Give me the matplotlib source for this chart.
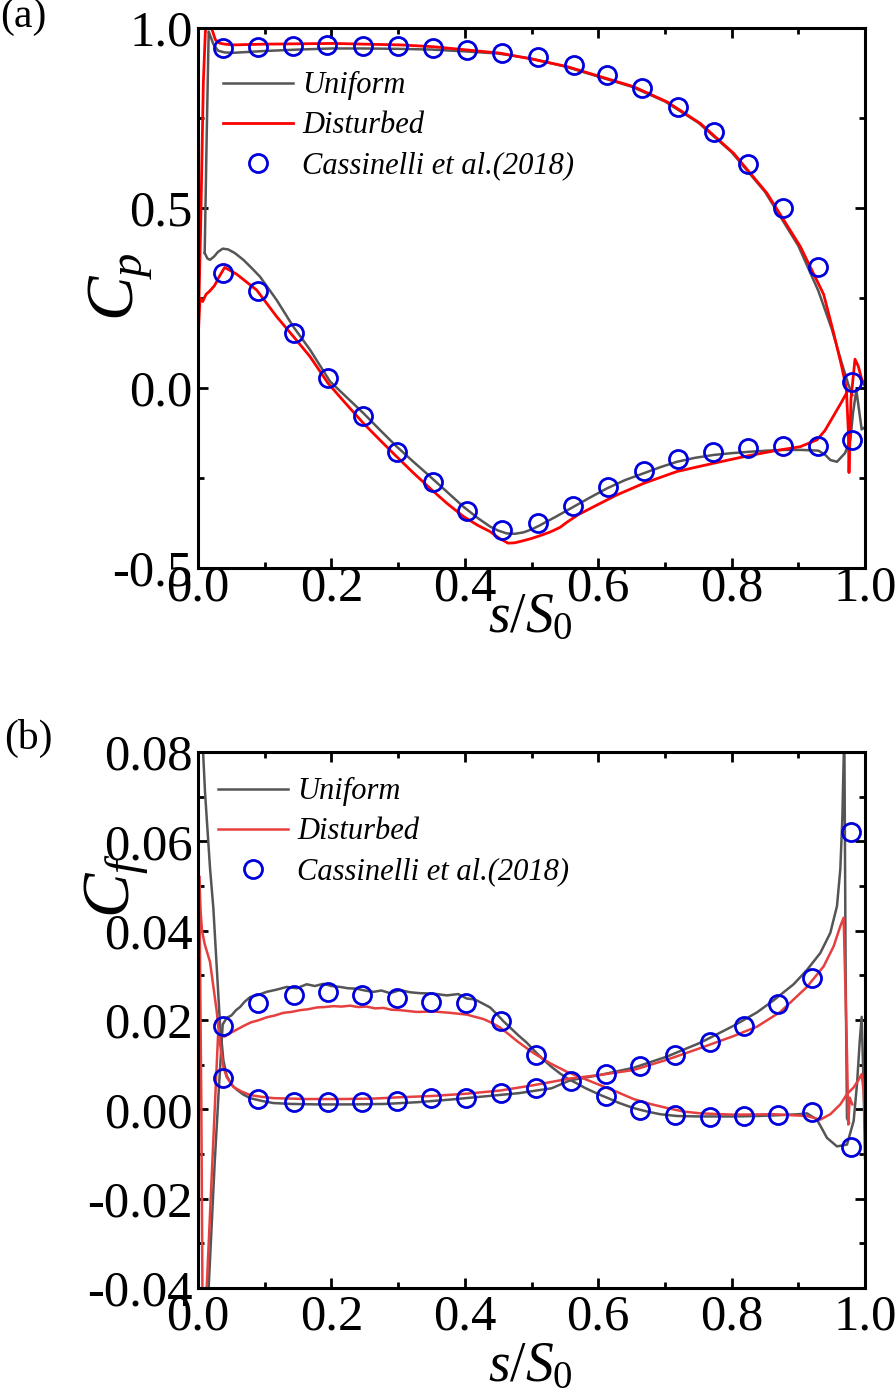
import matplotlib
matplotlib.use("Agg")
import matplotlib.pyplot as plt
from matplotlib.ticker import MultipleLocator, FormatStrFormatter

plt.rcParams['font.family'] = ['Liberation Serif', 'DejaVu Serif']
plt.rcParams['mathtext.fontset'] = 'custom'
plt.rcParams['mathtext.it'] = 'Liberation Serif:italic'
plt.rcParams['mathtext.rm'] = 'Liberation Serif'
plt.rcParams['axes.unicode_minus'] = False

# ---------------- (a) pressure coefficient ----------------
uni_ps_s = [0.010, 0.013, 0.016, 0.019, 0.023, 0.030, 0.040, 0.053, 0.10, 0.15, 0.20, 0.25, 0.30,
            0.35, 0.40, 0.45, 0.50, 0.55, 0.60, 0.65, 0.70, 0.75, 0.80, 0.85, 0.90, 0.93, 0.95,
            0.965, 0.975, 0.981]
uni_ps_cp = [0.375, 0.70, 0.99, 0.975, 0.955, 0.937, 0.932, 0.931, 0.936, 0.940, 0.943, 0.943, 0.942,
             0.940, 0.935, 0.929, 0.915, 0.893, 0.865, 0.837, 0.796, 0.737, 0.655, 0.545, 0.395, 0.27,
             0.165, 0.07, 0.01, -0.02]
uni_ss_s = [0.010, 0.014, 0.018, 0.024, 0.030, 0.037, 0.045, 0.055, 0.068, 0.080, 0.093, 0.105, 0.118,
            0.143, 0.168, 0.198, 0.223, 0.248, 0.273, 0.298, 0.323, 0.348, 0.373, 0.398, 0.42, 0.438,
            0.45, 0.463, 0.475, 0.488, 0.50, 0.513, 0.538, 0.563, 0.588, 0.613, 0.64, 0.668, 0.693,
            0.718, 0.745, 0.773, 0.80, 0.828, 0.853, 0.878, 0.905, 0.930, 0.940, 0.948, 0.958, 0.970,
            0.978, 0.982, 0.987, 0.991, 0.995, 0.999]
uni_ss_cp = [0.375, 0.36, 0.356, 0.365, 0.378, 0.387, 0.385, 0.375, 0.356, 0.334, 0.309, 0.278, 0.244,
             0.170, 0.106, 0.018, -0.026, -0.070, -0.117, -0.163, -0.205, -0.246, -0.288, -0.330, -0.362,
             -0.385, -0.396, -0.404, -0.405, -0.401, -0.393, -0.381, -0.356, -0.330, -0.304, -0.279,
             -0.256, -0.237, -0.220, -0.205, -0.194, -0.186, -0.181, -0.177, -0.174, -0.172, -0.172,
             -0.174, -0.185, -0.200, -0.205, -0.181, -0.144, -0.07, -0.006, -0.06, -0.115, -0.11]

dis_ps_s = [0.0, 0.004, 0.008, 0.011, 0.014, 0.018, 0.022, 0.026, 0.032, 0.040, 0.053, 0.10, 0.15,
            0.203, 0.25, 0.303, 0.352, 0.403, 0.453, 0.502, 0.553, 0.603, 0.653, 0.703, 0.753, 0.803,
            0.853, 0.903, 0.938, 0.952, 0.965, 0.972, 0.975, 0.976, 0.979, 0.985, 0.990, 0.995, 1.0]
dis_ps_cp = [0.13, 0.45, 0.85, 0.99, 1.01, 1.01, 0.99, 0.967, 0.958, 0.955, 0.953, 0.955, 0.956,
             0.957, 0.955, 0.953, 0.948, 0.939, 0.930, 0.913, 0.893, 0.865, 0.837, 0.795, 0.735, 0.652,
             0.541, 0.393, 0.26, 0.16, 0.06, 0.0, -0.12, -0.235, -0.03, 0.08, 0.06, 0.025, 0.005]
dis_ss_s = [0.0, 0.003, 0.007, 0.012, 0.018, 0.025, 0.032, 0.040, 0.058, 0.088, 0.118, 0.143, 0.168,
            0.195, 0.22, 0.248, 0.273, 0.298, 0.323, 0.348, 0.373, 0.398, 0.42, 0.438, 0.452, 0.465,
            0.475, 0.488, 0.50, 0.513, 0.528, 0.543, 0.553, 0.57, 0.593, 0.628, 0.668, 0.718, 0.773,
            0.823, 0.863, 0.903, 0.928, 0.94, 0.952, 0.963, 0.973]
dis_ss_cp = [0.13, 0.25, 0.24, 0.26, 0.27, 0.285, 0.31, 0.335, 0.316, 0.272, 0.198, 0.143, 0.087,
             0.013, -0.04, -0.098, -0.145, -0.191, -0.236, -0.279, -0.32, -0.357, -0.382, -0.399,
             -0.418, -0.431, -0.430, -0.424, -0.418, -0.410, -0.400, -0.387, -0.373, -0.352, -0.330,
             -0.297, -0.265, -0.232, -0.209, -0.189, -0.175, -0.163, -0.144, -0.118, -0.08, -0.045,
             -0.012]

exp_ps_s = [0.037, 0.090, 0.142, 0.194, 0.247, 0.300, 0.353, 0.403, 0.456, 0.510, 0.563, 0.613,
            0.665, 0.719, 0.774, 0.825, 0.877, 0.930, 0.981]
exp_ps_cp = [0.944, 0.948, 0.950, 0.953, 0.950, 0.950, 0.945, 0.939, 0.931, 0.919, 0.897, 0.869,
             0.832, 0.780, 0.712, 0.622, 0.499, 0.337, 0.017]
exp_ss_s = [0.038, 0.090, 0.144, 0.195, 0.247, 0.299, 0.353, 0.404, 0.456, 0.509, 0.562, 0.614,
            0.668, 0.720, 0.772, 0.824, 0.877, 0.929, 0.980]
exp_ss_cp = [0.319, 0.270, 0.152, 0.027, -0.077, -0.177, -0.260, -0.342, -0.394, -0.376, -0.327,
             -0.274, -0.230, -0.197, -0.177, -0.168, -0.160, -0.160, -0.144]

# ---------------- (b) skin friction ----------------
uni_a_s = [0.014, 0.025, 0.031, 0.037, 0.043, 0.050, 0.057, 0.063, 0.070, 0.078, 0.090, 0.103, 0.118,
           0.133, 0.148, 0.163, 0.175, 0.188, 0.200, 0.213, 0.225, 0.238, 0.250, 0.263, 0.275, 0.288,
           0.303, 0.318, 0.333, 0.353, 0.373, 0.390, 0.403, 0.415, 0.428, 0.438, 0.448, 0.458, 0.468,
           0.480, 0.493, 0.505, 0.518, 0.530, 0.543, 0.555, 0.568, 0.580, 0.593, 0.605, 0.618, 0.630,
           0.643, 0.655, 0.668, 0.680, 0.693, 0.718, 0.753, 0.803, 0.840, 0.873, 0.900, 0.913, 0.928,
           0.943, 0.958, 0.973, 0.983, 0.988, 0.992, 0.995, 0.998, 1.0]
uni_a_cf = [-0.046, -0.012, 0.004, 0.019, 0.0205, 0.021, 0.0222, 0.0229, 0.0241, 0.0251, 0.0256,
            0.0263, 0.0268, 0.0274, 0.0271, 0.0280, 0.0276, 0.0281, 0.0276, 0.0274, 0.0271, 0.0270,
            0.0266, 0.0263, 0.0266, 0.0260, 0.0267, 0.0262, 0.0260, 0.0259, 0.0255, 0.0258, 0.0248,
            0.0246, 0.0236, 0.0228, 0.0213, 0.0197, 0.0183, 0.0166, 0.0149, 0.0130, 0.0111, 0.0095,
            0.0080, 0.0068, 0.0058, 0.0048, 0.0039, 0.0031, 0.0023, 0.0015, 0.0008, 0.0002, -0.0003,
            -0.0007, -0.0011, -0.0015, -0.0016, -0.0016, -0.0015, -0.0013, -0.0011, -0.0009, -0.0023,
            -0.0064, -0.0083, -0.0079, -0.0026, 0.0056, 0.015, 0.0207, 0.005, -0.011]
uni_b_s = [0.006, 0.0105, 0.018, 0.023, 0.028, 0.033, 0.038, 0.043, 0.050, 0.058, 0.068, 0.078, 0.095,
           0.113, 0.140, 0.180, 0.230, 0.280, 0.330, 0.380, 0.430, 0.480, 0.530, 0.558, 0.603, 0.653,
           0.703, 0.753, 0.803, 0.838, 0.863, 0.893, 0.913, 0.933, 0.948, 0.958, 0.963, 0.966, 0.969,
           0.971, 0.973, 0.976]
uni_b_cf = [0.085, 0.071, 0.054, 0.045, 0.032, 0.019, 0.011, 0.0075, 0.0056, 0.0044, 0.0033, 0.0025,
            0.0019, 0.0014, 0.0012, 0.0011, 0.0011, 0.0012, 0.0016, 0.0022, 0.0029, 0.0036, 0.0047,
            0.0065, 0.0077, 0.0093, 0.0118, 0.0149, 0.0187, 0.0217, 0.0244, 0.028, 0.0312, 0.035,
            0.0395, 0.0455, 0.0538, 0.065, 0.085, 0.03, -0.002, -0.003]

dis_a_s = [0.002, 0.005, 0.007, 0.010, 0.030, 0.040, 0.050, 0.060, 0.070, 0.080, 0.090, 0.103, 0.115,
           0.128, 0.140, 0.153, 0.165, 0.178, 0.190, 0.203, 0.215, 0.228, 0.240, 0.253, 0.265, 0.278,
           0.290, 0.303, 0.328, 0.353, 0.378, 0.403, 0.428, 0.440, 0.453, 0.465, 0.478, 0.490, 0.503,
           0.528, 0.553, 0.578, 0.603, 0.628, 0.653, 0.678, 0.703, 0.728, 0.753, 0.803, 0.863, 0.913,
           0.933, 0.948, 0.963, 0.973, 0.983, 0.990, 0.995, 0.998, 1.0]
dis_a_cf = [0.052, 0.0, -0.05, -0.05, 0.0165, 0.0163, 0.0172, 0.0180, 0.0188, 0.0195, 0.0199, 0.0206,
            0.0210, 0.0216, 0.0218, 0.0222, 0.0224, 0.0228, 0.0229, 0.0231, 0.0230, 0.0232, 0.0229,
            0.0230, 0.0226, 0.0227, 0.0223, 0.0222, 0.0218, 0.0219, 0.0216, 0.0212, 0.0202, 0.0194,
            0.0183, 0.0169, 0.0153, 0.0140, 0.0126, 0.0103, 0.0084, 0.0069, 0.0054, 0.0039, 0.0023,
            0.0012, 0.0003, -0.0005, -0.0009, -0.0012, -0.0011, -0.0015, -0.0023, -0.0011, 0.0011,
            0.0034, 0.0049, 0.0065, 0.0079, 0.004, -0.003]
dis_b_s = [0.002, 0.004, 0.006, 0.010, 0.018, 0.028, 0.033, 0.038, 0.043, 0.053, 0.065, 0.078, 0.095,
           0.113, 0.163, 0.213, 0.263, 0.303, 0.353, 0.403, 0.453, 0.503, 0.558, 0.603, 0.653, 0.703,
           0.753, 0.803, 0.838, 0.873, 0.913, 0.938, 0.953, 0.963, 0.968, 0.973, 0.975, 0.977, 0.981]
dis_b_cf = [0.052, 0.044, 0.040, 0.037, 0.033, 0.022, 0.0146, 0.0095, 0.0072, 0.0050, 0.0040, 0.0032,
            0.0028, 0.0025, 0.0023, 0.0023, 0.0024, 0.0027, 0.0030, 0.0035, 0.0042, 0.0054, 0.0069,
            0.0077, 0.0088, 0.0111, 0.0137, 0.0164, 0.0185, 0.0218, 0.0274, 0.032, 0.0365, 0.041,
            0.0429, 0.0124, -0.0034, 0.0026, 0.0011]

exp_a_s = [0.038, 0.090, 0.144, 0.195, 0.246, 0.298, 0.350, 0.402, 0.455, 0.507, 0.559, 0.611, 0.663,
           0.715, 0.767, 0.818, 0.870, 0.920, 0.979]
exp_a_cf = [0.0187, 0.0237, 0.0257, 0.0262, 0.0257, 0.0249, 0.0240, 0.0238, 0.0197, 0.0121, 0.0063,
            0.0029, -0.0001, -0.0012, -0.0018, -0.0015, -0.0013, -0.0006, -0.0085]
exp_b_s = [0.038, 0.090, 0.144, 0.195, 0.246, 0.298, 0.350, 0.402, 0.455, 0.507, 0.611, 0.663, 0.715,
           0.767, 0.818, 0.870, 0.920, 0.979]
exp_b_cf = [0.0069, 0.0022, 0.0016, 0.0016, 0.0016, 0.0018, 0.0026, 0.0026, 0.0037, 0.0048, 0.0078,
            0.0098, 0.0121, 0.0150, 0.0187, 0.0236, 0.0295, 0.0620]

GRAY = '#555555'
RED_A = '#ff0000'
RED_B = '#e5403f'
BLUE = '#0000dd'
labels = ['Uniform', 'Disturbed', 'Cassinelli et al.(2018)']

fig = plt.figure(figsize=(8.96, 13.98), dpi=100)
ax1 = fig.add_axes([0.221, 0.5937, 0.7444, 0.3863])
ax2 = fig.add_axes([0.221, 0.0787, 0.7444, 0.3834])


def style_axis(ax, xpad):
    for sp in ax.spines.values():
        sp.set_linewidth(2.2)
    ax.tick_params(which='both', direction='in', top=True, right=True, width=2,
                   labelsize=36.5)
    ax.tick_params(axis='y', pad=4)
    ax.tick_params(axis='x', pad=xpad)
    ax.tick_params(which='major', length=7)
    ax.tick_params(which='minor', length=4)
    ax.xaxis.set_major_locator(MultipleLocator(0.2))
    ax.xaxis.set_minor_locator(MultipleLocator(0.1))
    ax.xaxis.set_major_formatter(FormatStrFormatter('%.1f'))
    ax.set_xlim(0, 1)
    ax.set_xlabel(r'$s/S_{\mathit{0}}$', fontsize=40)


marker_kw = dict(ls='none', marker='o', ms=13, mfc='none', mec=BLUE, mew=2.0)

ax1.plot(uni_ps_s, uni_ps_cp, color=GRAY, lw=1.8, label=labels[0])
ax1.plot(uni_ss_s, uni_ss_cp, color=GRAY, lw=1.8)
ax1.plot(dis_ps_s, dis_ps_cp, color=RED_A, lw=2.0, label=labels[1])
ax1.plot(dis_ss_s, dis_ss_cp, color=RED_A, lw=2.0)
ax1.plot(exp_ps_s + exp_ss_s, exp_ps_cp + exp_ss_cp, label=labels[2], **marker_kw)
style_axis(ax1, -2)
ax1.set_ylim(-0.5, 1.0)
ax1.yaxis.set_major_locator(MultipleLocator(0.5))
ax1.yaxis.set_minor_locator(MultipleLocator(0.25))
ax1.yaxis.set_major_formatter(FormatStrFormatter('%.1f'))
ax1.set_ylabel(r'$C_p$', fontsize=48)
ax1.yaxis.set_label_coords(-0.065, 0.52)
ax1.xaxis.set_label_coords(0.498, -0.044)

ax2.plot(uni_a_s, uni_a_cf, color=GRAY, lw=1.8, label=labels[0])
ax2.plot(uni_b_s, uni_b_cf, color=GRAY, lw=1.8)
ax2.plot(dis_a_s, dis_a_cf, color=RED_B, lw=1.8, label=labels[1])
ax2.plot(dis_b_s, dis_b_cf, color=RED_B, lw=1.8)
ax2.plot(exp_a_s + exp_b_s, exp_a_cf + exp_b_cf, label=labels[2], **marker_kw)
style_axis(ax2, 4)
ax2.set_ylim(-0.04, 0.08)
ax2.yaxis.set_major_locator(MultipleLocator(0.02))
ax2.yaxis.set_minor_locator(MultipleLocator(0.01))
ax2.yaxis.set_major_formatter(FormatStrFormatter('%.2f'))
ax2.set_ylabel(r'$C_f$', fontsize=48)
ax2.yaxis.set_label_coords(-0.07, 0.75)
ax2.xaxis.set_label_coords(0.498, -0.10)

leg_kw = dict(loc='upper left', frameon=False,
              prop={'family': 'Liberation Serif', 'style': 'italic', 'size': 22},
              handlelength=2.3, handletextpad=0.3, labelspacing=0.36, borderpad=0,
              borderaxespad=0)
ax1.legend(bbox_to_anchor=(0.0375, 0.92), **leg_kw)
ax2.legend(bbox_to_anchor=(0.03, 0.953), **leg_kw)

fig.text(0.0, 0.988, '(a)', fontsize=30, va='center', ha='left')
fig.text(0.005, 0.472, '(b)', fontsize=30, va='center', ha='left')

fig.savefig('out.png', dpi=100)
